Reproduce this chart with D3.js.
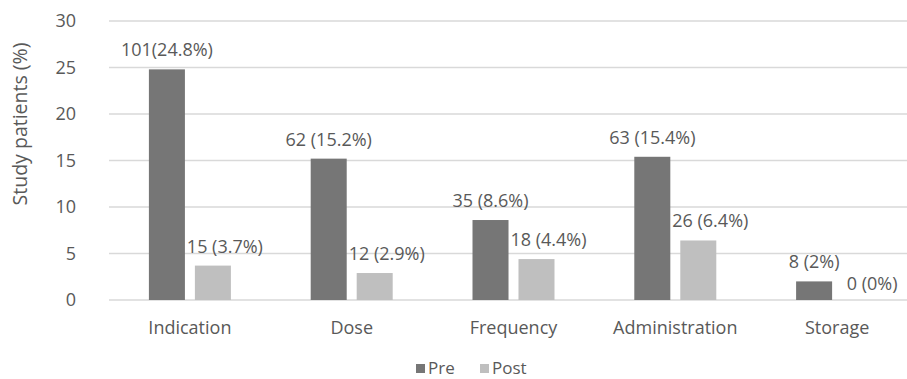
<!DOCTYPE html>
<html>
<head>
<meta charset="utf-8">
<script src="https://cdn.jsdelivr.net/npm/d3@7"></script>
<style>
  html, body { margin: 0; padding: 0; background: #fff; }
  svg text { font-family: "Open Sans", "Noto Sans", sans-serif; fill: #595959; }
</style>
</head>
<body>
<svg id="chart" width="907" height="379"></svg>
<script>
const categories = ["Indication", "Dose", "Frequency", "Administration", "Storage"];
const series = ["Pre", "Post"];
const preValues = [24.8, 15.2, 8.6, 15.4, 2];
const postValues = [3.7, 2.9, 4.4, 6.4, 0];
const preLabels = ["101(24.8%)", "62 (15.2%)", "35 (8.6%)", "63 (15.4%)", "8 (2%)"];
const postLabels = ["15 (3.7%)", "12 (2.9%)", "18 (4.4%)", "26 (6.4%)", "0 (0%)"];
const yTicks = [0, 5, 10, 15, 20, 25, 30];
const colors = { Pre: "#767676", Post: "#bfbfbf" };

const svg = d3.select("#chart");
const plot = { left: 109, right: 918, top: 21, bottom: 300 };
const groupWidth = 82;

const x = d3.scaleBand().domain(categories).range([plot.left, plot.right]).paddingInner(0).paddingOuter(0);
const xs = d3.scaleBand().domain(series).range([0, groupWidth]).paddingInner(0.217);
const y = d3.scaleLinear().domain([0, 30]).range([plot.bottom, plot.top]);

// gridlines
svg.append("g").selectAll("line").data(yTicks).join("line")
  .attr("x1", plot.left).attr("x2", 907)
  .attr("y1", d => y(d)).attr("y2", d => y(d))
  .attr("stroke", "#d9d9d9").attr("stroke-width", 1.3);

// y tick labels
const yAxis = svg.append("g").attr("transform", `translate(${plot.left},0)`)
  .call(d3.axisLeft(y).tickValues(yTicks).tickSize(0).tickPadding(33));
yAxis.select(".domain").remove();
yAxis.selectAll("text").style("font-size", "18px").attr("fill", "#595959")
  .style("font-family", "'Open Sans', sans-serif");

// y axis title
svg.append("text")
  .attr("transform", "translate(27,124) rotate(-90)")
  .attr("text-anchor", "middle")
  .style("font-size", "19.5px")
  .text("Study patients (%)");

// category labels
const xAxis = svg.append("g").attr("transform", `translate(0,${plot.bottom})`)
  .call(d3.axisBottom(x).tickSize(0).tickPadding(21));
xAxis.select(".domain").remove();
xAxis.selectAll("text").style("font-size", "18px").attr("fill", "#595959")
  .style("font-family", "'Open Sans', sans-serif");

const rows = categories.map((c, i) => ({
  cat: c,
  bars: [
    { s: "Pre", v: preValues[i], label: preLabels[i] },
    { s: "Post", v: postValues[i], label: postLabels[i] }
  ]
}));

const groups = svg.append("g").selectAll("g").data(rows).join("g")
  .attr("transform", d => `translate(${x(d.cat) + x.bandwidth() / 2 - groupWidth / 2},0)`);

groups.selectAll("rect").data(d => d.bars).join("rect")
  .attr("x", d => xs(d.s))
  .attr("width", xs.bandwidth())
  .attr("y", d => y(d.v))
  .attr("height", d => y(0) - y(d.v))
  .attr("fill", d => colors[d.s]);

// value labels; the Post labels sit nudged to the right of their bars
groups.selectAll("text.val").data(d => d.bars).join("text")
  .attr("class", "val")
  .attr("x", d => xs(d.s) + xs.bandwidth() / 2 + (d.s === "Post" ? 12 : 0))
  .attr("y", d => y(d.v) - (d.v === 0 ? 10 : 13))
  .attr("text-anchor", "middle")
  .style("font-size", "18px")
  .text(d => d.label);

// legend
const legend = svg.append("g");
const items = [{ s: "Pre", x: 416 }, { s: "Post", x: 480 }];
items.forEach(it => {
  legend.append("rect").attr("x", it.x).attr("y", 364).attr("width", 9).attr("height", 9)
    .attr("fill", colors[it.s]);
  legend.append("text").attr("x", it.x + 12).attr("y", 374)
    .style("font-size", "17px").text(it.s);
});
</script>
</body>
</html>
